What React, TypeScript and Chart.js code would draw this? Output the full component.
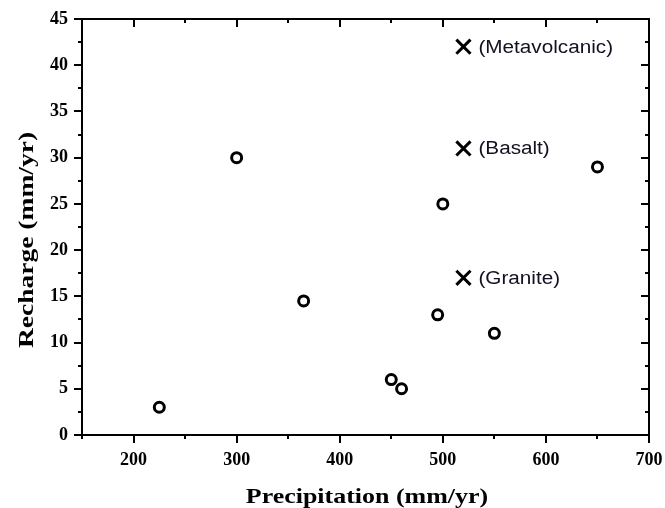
import React, { useEffect, useRef } from "react";
import { Chart, registerables } from "chart.js";

Chart.register(...registerables);

const circlePrecip = [225, 300, 365, 450, 460, 495, 500, 550, 650];
const circleRecharge = [3, 30, 14.5, 6, 5, 13, 25, 11, 29];

const crossPrecip = [520, 520, 520];
const crossRecharge = [42, 31, 17];
const crossLabels = ["(Metavolcanic)", "(Basalt)", "(Granite)"];

const xMajorTicks = [200, 300, 400, 500, 600, 700];
const xMinorTicks = [150, 250, 350, 450, 550, 650];
const yMajorTicks = [0, 5, 10, 15, 20, 25, 30, 35, 40, 45];
const yMinorTicks = [2.5, 7.5, 12.5, 17.5, 22.5, 27.5, 32.5, 37.5, 42.5];

const xTitle = "Precipitation (mm/yr)";
const yTitle = "Recharge (mm/yr)";

const serif = "'Liberation Serif', 'Times New Roman', serif";
const sans = "'Liberation Sans', Arial, sans-serif";

const framePlugin = {
  id: "frame",
  afterDraw(chart: any) {
    const { ctx, chartArea } = chart;
    const { left, right, top, bottom } = chartArea;
    const xs = chart.scales.x;
    const ys = chart.scales.y;
    ctx.save();
    ctx.strokeStyle = "#000";
    ctx.lineWidth = 2;
    ctx.strokeRect(left, top, right - left, bottom - top);
    const major = 8;
    const minor = 4;
    ctx.beginPath();
    yMajorTicks.forEach((v) => {
      const y = Math.round(ys.getPixelForValue(v));
      ctx.moveTo(left - major, y);
      ctx.lineTo(left, y);
      ctx.moveTo(right - major, y);
      ctx.lineTo(right, y);
    });
    yMinorTicks.forEach((v) => {
      const y = Math.round(ys.getPixelForValue(v));
      ctx.moveTo(left - minor, y);
      ctx.lineTo(left, y);
      ctx.moveTo(right - minor, y);
      ctx.lineTo(right, y);
    });
    xMajorTicks.forEach((v) => {
      const x = Math.round(xs.getPixelForValue(v));
      ctx.moveTo(x, bottom);
      ctx.lineTo(x, bottom + major);
      ctx.moveTo(x, top);
      ctx.lineTo(x, top + major);
    });
    xMinorTicks.forEach((v) => {
      const x = Math.round(xs.getPixelForValue(v));
      ctx.moveTo(x, bottom);
      ctx.lineTo(x, bottom + minor);
      ctx.moveTo(x, top);
      ctx.lineTo(x, top + minor);
    });
    ctx.stroke();

    // cross labels
    ctx.fillStyle = "#111122";
    ctx.font = `18px ${sans}`;
    ctx.textAlign = "left";
    ctx.textBaseline = "middle";
    crossLabels.forEach((t, i) => {
      const x = xs.getPixelForValue(crossPrecip[i]);
      const y = ys.getPixelForValue(crossRecharge[i]);
      ctx.save();
      ctx.translate(x + 15, y + 1);
      ctx.scale(1.15, 1);
      ctx.fillText(t, 0, 0);
      ctx.restore();
    });

    // axis titles
    ctx.fillStyle = "#000";
    ctx.font = `bold 22px ${serif}`;
    ctx.textAlign = "center";
    ctx.textBaseline = "alphabetic";
    ctx.save();
    ctx.translate(367, 503);
    ctx.scale(1.18, 1);
    ctx.fillText(xTitle, 0, 0);
    ctx.restore();
    ctx.save();
    ctx.translate(33, 240);
    ctx.rotate(-Math.PI / 2);
    ctx.scale(1.25, 1);
    ctx.fillText(yTitle, 0, 0);
    ctx.restore();
    ctx.restore();
  },
};

export default function App() {
  const ref = useRef<HTMLCanvasElement>(null);
  useEffect(() => {
    document.body.style.margin = "0";
    const canvas = ref.current!;
    const chart = new Chart(canvas, {
      type: "scatter",
      data: {
        datasets: [
          {
            data: circlePrecip.map((x, i) => ({ x, y: circleRecharge[i] })),
            pointStyle: "circle",
            pointRadius: 5,
            borderWidth: 3,
            borderColor: "#000",
            backgroundColor: "rgba(0,0,0,0)",
          },
          {
            data: crossPrecip.map((x, i) => ({ x, y: crossRecharge[i] })),
            pointStyle: "crossRot",
            pointRadius: 10,
            borderWidth: 3,
            borderColor: "#000",
            backgroundColor: "#000",
          },
        ],
      },
      options: {
        responsive: false,
        animation: false,
        layout: { padding: { top: 19, right: 16, left: 0, bottom: 0 } },
        plugins: {
          legend: { display: false },
          tooltip: { enabled: false },
        },
        scales: {
          x: {
            type: "linear",
            min: 150,
            max: 700,
            afterBuildTicks: (s: any) => {
              s.ticks = xMajorTicks.map((v) => ({ value: v }));
            },
            afterFit: (s: any) => {
              s.height = 73;
              s.paddingRight = 0;
              s.paddingLeft = 0;
            },
            grid: { display: false, drawTicks: false },
            border: { display: false },
            ticks: {
              padding: 15,
              color: "#000",
              font: { family: serif, weight: "bold", size: 18 },
              maxRotation: 0,
            },
          },
          y: {
            type: "linear",
            min: 0,
            max: 45,
            afterBuildTicks: (s: any) => {
              s.ticks = yMajorTicks.map((v) => ({ value: v }));
            },
            afterFit: (s: any) => {
              s.width = 82;
              s.paddingTop = 0;
              s.paddingBottom = 0;
            },
            grid: { display: false, drawTicks: false },
            border: { display: false },
            ticks: {
              padding: 14,
              color: "#000",
              font: { family: serif, weight: "bold", size: 18 },
            },
          },
        },
      },
      plugins: [framePlugin],
    } as any);
    return () => chart.destroy();
  }, []);
  return (
    <canvas
      ref={ref}
      width={665}
      height={508}
      style={{ display: "block", width: 665, height: 508 }}
    />
  );
}
